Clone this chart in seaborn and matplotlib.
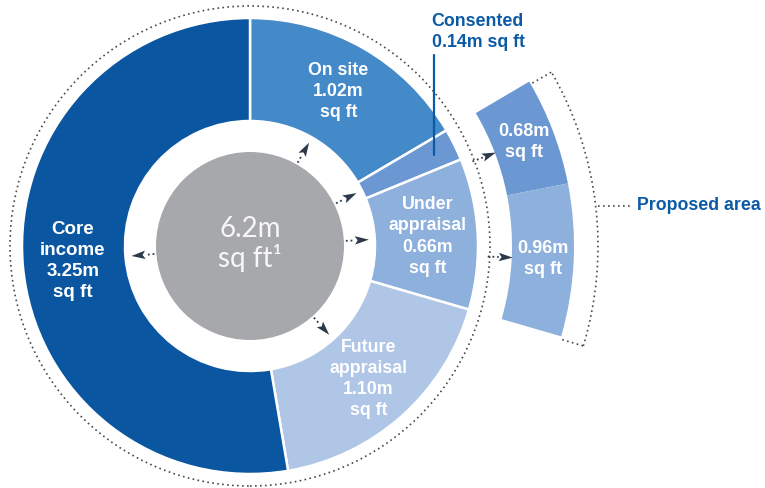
import numpy as np
import matplotlib
matplotlib.use("Agg")
import matplotlib.pyplot as plt
from matplotlib.patches import Wedge, Circle, Arc, Polygon
import seaborn as sns

# ---- data -------------------------------------------------------------
segments = ["On site", "Consented", "Under\nappraisal", "Future\nappraisal", "Core\nincome"]
areas = [1.02, 0.14, 0.66, 1.10, 3.25]          # m sq ft
proposed = [0.68, 0.96]                          # m sq ft, proposed on consented / under appraisal
total_text = "6.2m\nsq ft\u00b9"

# ---- style ------------------------------------------------------------
sns.set_theme(style="white")
plt.rcParams["font.family"] = ["Liberation Sans", "DejaVu Sans"]

ring_colors = sns.color_palette(["#4489c8", "#6b98d2", "#8db0dc", "#afc6e6", "#0a56a0"])
outer_colors = sns.color_palette(["#6b98d2", "#8db0dc"])
grey = "#a7a8ac"
arrow_col = "#2b3949"
label_blue = "#0b5aa6"
dot_col = "#4a4a4a"

R_OUT, R_IN = 228, 125
R_CORE = 94
R_DOT = 240
R2_IN, R2_OUT = 262, 324
R_BRACKET = 348

fig = plt.figure(figsize=(7.65, 4.88), dpi=100)
ax = fig.add_axes([0, 0, 1, 1])

# main donut
wedges, _ = ax.pie(areas, radius=R_OUT, startangle=90, counterclock=False,
                   colors=ring_colors,
                   wedgeprops=dict(width=R_OUT - R_IN, edgecolor="white", linewidth=1.8))


def polar(r, deg):
    a = np.deg2rad(deg)
    return r * np.cos(a), r * np.sin(a)


def mid(w):
    return 0.5 * (w.theta1 + w.theta2)


def arrow(deg, r0, r1, head=14, half=4.2):
    ux, uy = np.cos(np.deg2rad(deg)), np.sin(np.deg2rad(deg))
    x0, y0 = r0 * ux, r0 * uy
    xb, yb = (r1 - head) * ux, (r1 - head) * uy
    xt, yt = r1 * ux, r1 * uy
    ax.plot([x0, xb], [y0, yb], color=arrow_col, lw=1.3, ls=(0, (1, 1.6)),
            solid_capstyle="butt", zorder=4)
    px, py = -uy, ux
    ax.add_patch(Polygon([(xt, yt), (xb + half * px, yb + half * py),
                          (xb + 0.2 * head * ux, yb + 0.2 * head * uy),
                          (xb - half * px, yb - half * py)],
                         closed=True, color=arrow_col, lw=0, zorder=4))


# centre disc and total
ax.add_patch(Circle((0, 0), R_CORE, color=grey, lw=0, zorder=2))
ax.text(0, 2, total_text, ha="center", va="center", color="#f7f7f7",
        fontsize=20, family=["Lato", "DejaVu Sans"], fontweight="normal",
        linespacing=1.05, zorder=5)

# dotted circle round the donut
ax.add_patch(Circle((0, 0), R_DOT, fill=False, ec=dot_col, lw=1.2, ls=(0, (1, 2.0))))

# wedge labels and arrows from the centre
for i, (w, name, v) in enumerate(zip(wedges, segments, areas)):
    m = mid(w)
    arrow(m, R_CORE + 2, R_IN - 6)
    if i == 1:
        continue
    fs = 13.5 if i == 4 else 12.8
    x, y = polar(178, m)
    ax.text(x, y, f"{name}\n{v:.2f}m\nsq ft", ha="center", va="center",
            color="white", fontsize=fs, fontweight="bold", linespacing=1.32,
            zorder=5)

# consented call-out
wc = wedges[1]
lx, ly = polar(205, mid(wc))
ax.plot([lx, lx], [ly, 191], color=label_blue, lw=1.6, zorder=4)
ax.text(lx - 2, 195, f"Consented\n{areas[1]:.2f}m sq ft", ha="left", va="bottom",
        color=label_blue, fontsize=12.8, fontweight="bold", linespacing=1.3)

# proposed ring over consented + under appraisal
span_hi = wedges[1].theta2
span_lo = wedges[2].theta1
scale = (span_hi - span_lo) / sum(proposed)
hi = span_hi
for v, col in zip(proposed, outer_colors):
    lo = hi - v * scale
    ax.add_patch(Wedge((0, 0), R2_OUT, lo, hi, width=R2_OUT - R2_IN, color=col, lw=0))
    m = 0.5 * (lo + hi)
    arrow(m, R_DOT - 2, R2_IN + 1)
    x, y = polar(293, m)
    ax.text(x, y, f"{v:.2f}m\nsq ft", ha="center", va="center", color="white",
            fontsize=13, fontweight="bold", linespacing=1.32, zorder=5)
    hi = lo

# bracket round the proposed ring
ax.add_patch(Arc((0, 0), 2 * R_BRACKET, 2 * R_BRACKET, theta1=span_lo - 0.5,
                 theta2=span_hi - 0.5, ec=dot_col, lw=1.2, ls=(0, (1, 2.0))))
for a in (span_hi - 0.5, span_lo - 0.5):
    x0, y0 = polar(R2_OUT + 2, a)
    x1, y1 = polar(R_BRACKET, a)
    ax.plot([x0, x1], [y0, y1], color=dot_col, lw=1.2, ls=(0, (1, 2.0)))
bm = 0.5 * (span_hi + span_lo) - 0.5
bx, by = polar(R_BRACKET, bm)
ax.plot([bx + 2, 382], [by, by], color=dot_col, lw=1.2, ls=(0, (1, 2.0)))
ax.text(387, by, "Proposed area", ha="left", va="center", color=label_blue,
        fontsize=12.8, fontweight="bold")

ax.set_xlim(-250, 515)
ax.set_ylim(-242, 246)
ax.set_aspect("equal")
ax.axis("off")

fig.savefig("out.png", dpi=100)
